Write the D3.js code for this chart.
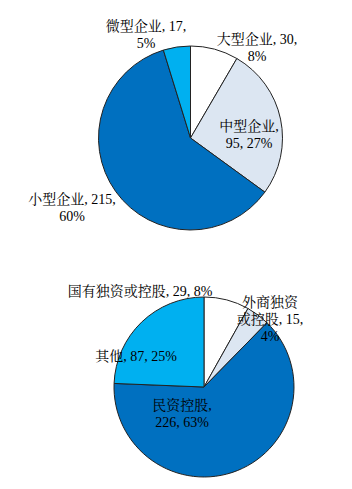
<!DOCTYPE html>
<html><head><meta charset="utf-8">
<script src="https://cdn.jsdelivr.net/npm/d3@7"></script>
<style>body{margin:0;background:#fff}svg{display:block}</style>
</head><body><svg id="c" width="352" height="489"></svg>
<script>
// Data
const sizeCategories = ["大型企业","中型企业","小型企业","微型企业"];
const sizeValues = [30, 95, 215, 17];
const sizePercents = ["8%","27%","60%","5%"];
const ownCategories = ["国有独资或控股","外商独资或控股","民资控股","其他"];
const ownValues = [29, 15, 226, 87];
const ownPercents = ["8%","4%","63%","25%"];
const colors = ["#ffffff","#dce6f2","#0070c0","#00b0f0"];

// label layouts (lines of text, per slice)
const sizeLabels = [
  {lines:[sizeCategories[0]+", "+sizeValues[0]+",", sizePercents[0]], x:257, y:44},
  {lines:[sizeCategories[1]+",", sizeValues[1]+", "+sizePercents[1]], x:249, y:131},
  {lines:[sizeCategories[2]+", "+sizeValues[2]+",", sizePercents[2]], x:72, y:204},
  {lines:[sizeCategories[3]+", "+sizeValues[3]+",", sizePercents[3]], x:146, y:31}
];
const ownLabels = [
  {lines:[ownCategories[0]+", "+ownValues[0]+", "+ownPercents[0]], x:140, y:296},
  {lines:["外商独资","或控股, "+ownValues[1]+",", ownPercents[1]], x:270, y:307},
  {lines:[ownCategories[2]+",", ownValues[2]+", "+ownPercents[2]], x:182, y:410},
  {lines:[ownCategories[3]+", "+ownValues[3]+", "+ownPercents[3]], x:136, y:361}
];

const svg = d3.select("#c");
function drawPie(values, labels, cx, cy, r){
  const pie = d3.pie().sort(null).value(d=>d);
  const arc = d3.arc().innerRadius(0).outerRadius(r);
  const g = svg.append("g").attr("transform",`translate(${cx},${cy})`);
  g.selectAll("path").data(pie(values)).join("path")
    .attr("d",arc).attr("fill",(d,i)=>colors[i])
    .attr("stroke","#222").attr("stroke-width",1);
  labels.forEach(l=>{
    const t = svg.append("text").attr("text-anchor","middle")
      .attr("font-family","'Liberation Serif','Noto Serif CJK SC','Noto Sans CJK SC',serif")
      .attr("font-size",14).attr("fill","#000");
    l.lines.forEach((s,k)=>{
      t.append("tspan").attr("x",l.x).attr("y",l.y+k*17).text(s);
    });
  });
}
drawPie(sizeValues, sizeLabels, 190.5, 138, 92);
drawPie(ownValues, ownLabels, 204, 387, 90);
</script></body></html>
